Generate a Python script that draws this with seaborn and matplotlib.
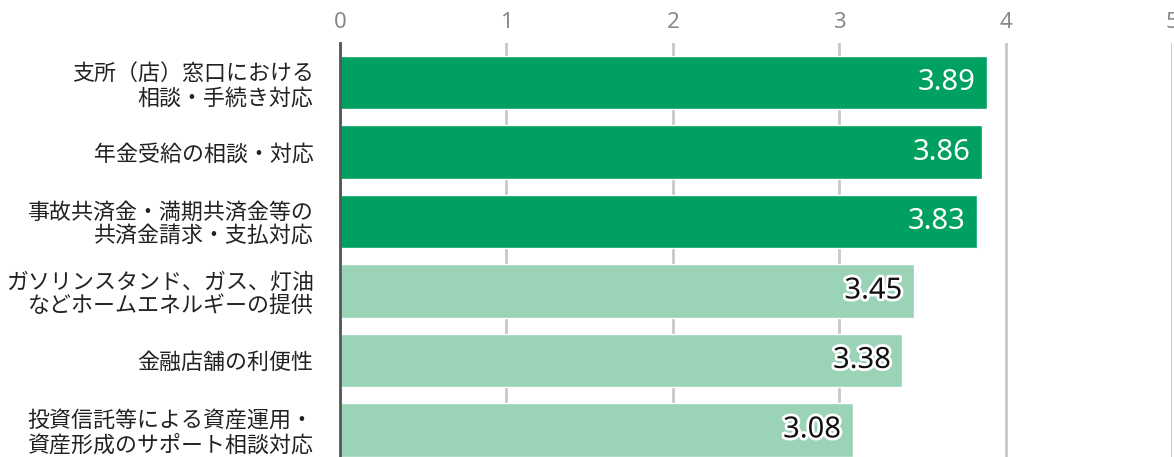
import matplotlib
matplotlib.use("Agg")
import matplotlib.pyplot as plt
import matplotlib.patheffects as pe
import seaborn as sns

# data
labels = [
    "支所（店）窓口における\n相談・手続き対応",
    "年金受給の相談・対応",
    "事故共済金・満期共済金等の\n共済金請求・支払対応",
    "ガソリンスタンド、ガス、灯油\nなどホームエネルギーの提供",
    "金融店舗の利便性",
    "投資信託等による資産運用・\n資産形成のサポート相談対応",
]
values = [3.89, 3.86, 3.83, 3.45, 3.38, 3.08]
dark = "#00A160"
light = "#9BD3B7"
colors = [dark, dark, dark, light, light, light]

sns.set_style("white")
plt.rcParams["font.family"] = ["Noto Sans CJK JP", "DejaVu Sans"]

fig = plt.figure(figsize=(11.74, 4.57), dpi=100)
ax = fig.add_axes([340 / 1174, 0, 832 / 1174, 414 / 457])

sns.barplot(x=values, y=labels, hue=labels, palette=colors, width=0.77,
            legend=False, ax=ax, saturation=1)

ax.set_xlim(0, 5)
ax.set_ylim(5.39, -0.57)
ax.set_xticks(range(6))
ax.xaxis.tick_top()
ax.tick_params(axis="x", length=0, pad=7, labelsize=16, labelcolor="#888888")
ax.tick_params(axis="y", length=0, pad=19, labelsize=15.8, labelcolor="#222222")
for t in ax.get_xticklabels():
    t.set_family("Noto Sans")
for t in ax.get_yticklabels():
    t.set_linespacing(1.12)
ax.grid(axis="x", color="#c8c8c8", linewidth=2)
ax.set_axisbelow(True)
ax.set_xlabel("")
ax.set_ylabel("")
for s in ["top", "right", "bottom"]:
    ax.spines[s].set_visible(False)
ax.spines["left"].set_color("#555555")
ax.spines["left"].set_linewidth(2)

for i, v in enumerate(values):
    if colors[i] == dark:
        ax.text(v - 0.07, i, f"{v:.2f}", ha="right", va="center",
                fontsize=21, color="white", family="Noto Sans")
    else:
        ax.text(v - 0.07, i, f"{v:.2f}", ha="right", va="center",
                fontsize=21, color="#111111", family="Noto Sans",
                path_effects=[pe.withStroke(linewidth=4, foreground="white")])

fig.savefig("out.png", dpi=100)
